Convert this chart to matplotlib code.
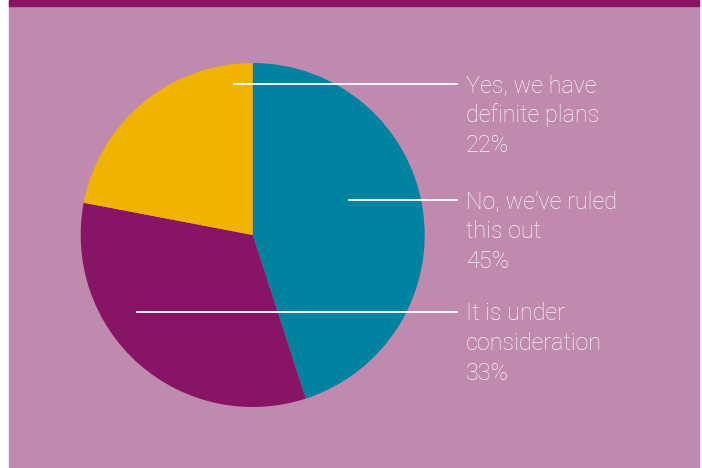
import matplotlib
matplotlib.use("Agg")
import matplotlib.pyplot as plt
from matplotlib.patches import Rectangle

# survey answers, clockwise from 12 o'clock
labels = [["No, we\u2019ve ruled", "this out"],
          ["It is under", "consideration"],
          ["Yes, we have", "definite plans"]]
shares = [45, 33, 22]
colors = ["#0082A1", "#871465", "#F0B400"]

W, H = 702, 468
BG = "#BF8AAE"
BAR = "#891464"

fig = plt.figure(figsize=(W / 100, H / 100), dpi=100)
fig.patch.set_facecolor("white")
ax = fig.add_axes([0, 0, 1, 1])

# coloured panel with the thin band across the top
ax.add_patch(Rectangle((9, 0), 690, H, color=BG, zorder=0))
ax.add_patch(Rectangle((9, H - 6), 690, 6, color=BAR, zorder=1))

ax.pie(shares, colors=colors, startangle=90, counterclock=False,
       center=(252.7, H - 235), radius=172, frame=True,
       wedgeprops=dict(linewidth=0))
ax.set_xlim(0, W)
ax.set_ylim(0, H)
ax.set_aspect("equal")
ax.axis("off")

# callouts: leader line start x and row (pixels from top) for each answer
callouts = [
    (0, 348, 200),
    (1, 136, 312),
    (2, 233, 84),
]
text_x = 466
line_gap = 29.7
for idx, x0, row in callouts:
    y = H - row
    ax.plot([x0, 458], [y, y], color="white", lw=1.3, zorder=5,
            solid_capstyle="butt")
    lines = labels[idx] + [f"{shares[idx]}%"]
    for k, line in enumerate(lines):
        ax.text(text_x, y - 8.5 - k * line_gap, line,
                color="#FBF6FA", fontsize=16.8, family=["Roboto", "DejaVu Sans"],
                fontweight="light", va="baseline", ha="left", zorder=6)

fig.savefig("out.png", dpi=100, facecolor=fig.get_facecolor())
